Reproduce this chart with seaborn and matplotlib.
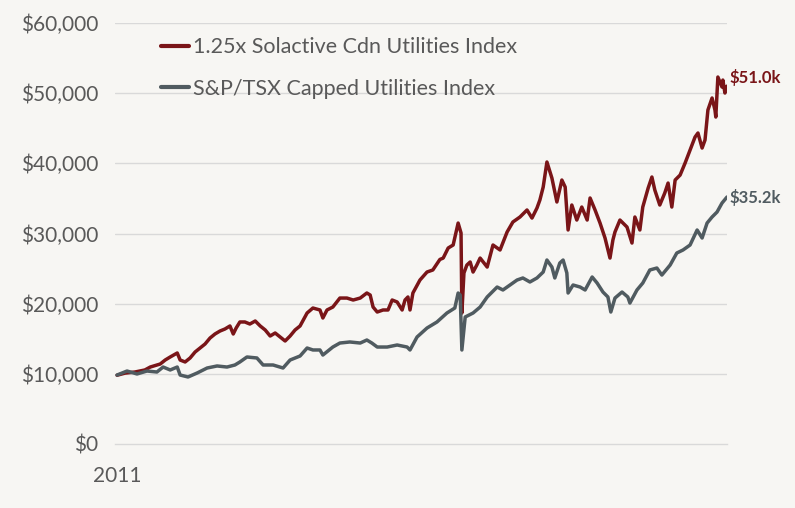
import numpy as np
import pandas as pd
import matplotlib
matplotlib.use("Agg")
import matplotlib.pyplot as plt
import seaborn as sns

# growth of $10,000, x = years since start of 2011
lev_years = [0.00, 0.19, 0.43, 0.67, 0.80, 1.04, 1.16, 1.28, 1.45, 1.52, 1.64, 1.76, 1.88, 2.00,
             2.12, 2.24, 2.36, 2.48, 2.60, 2.72, 2.80, 2.87, 2.96, 3.08, 3.20, 3.33, 3.45, 3.57,
             3.69, 3.81, 3.93, 4.05, 4.17, 4.29, 4.41, 4.58, 4.72, 4.89, 4.96, 5.06, 5.20, 5.37,
             5.54, 5.69, 5.86, 6.02, 6.10, 6.17, 6.27, 6.41, 6.53, 6.63, 6.75, 6.87, 6.94, 7.01,
             7.06, 7.13, 7.30, 7.47, 7.61, 7.78, 7.86, 7.98, 8.10, 8.22, 8.29, 8.31, 8.36, 8.43,
             8.51, 8.58, 8.67, 8.75, 8.92, 9.06, 9.23, 9.40, 9.54, 9.71, 9.88, 10.00, 10.12, 10.19,
             10.27, 10.36, 10.48, 10.60, 10.72, 10.80, 10.87, 10.96, 11.08, 11.20, 11.33, 11.40,
             11.52, 11.64, 11.76, 11.88, 11.95, 12.00, 12.12, 12.29, 12.41, 12.48, 12.60, 12.67,
             12.80, 12.89, 12.96, 13.08, 13.20, 13.28, 13.37, 13.45, 13.57, 13.69, 13.81, 13.93,
             14.00, 14.10, 14.17, 14.24, 14.34, 14.41, 14.43, 14.48, 14.58, 14.60, 14.65, 14.70]
lev_values = [9800, 10100, 10260, 10550, 10970, 11400, 11970, 12400, 12970, 11970, 11690, 12260, 13110, 13680,
              14250, 15100, 15680, 16100, 16390, 16820, 15680, 16530, 17390, 17390, 17100, 17530, 16820, 16250,
              15390, 15820, 15250, 14680, 15390, 16250, 16820, 18670, 19380, 19100, 17960, 19100, 19520, 20800,
              20800, 20520, 20800, 21520, 21230, 19520, 18810, 19100, 19100, 20520, 20240, 19100, 20520, 20950,
              19100, 21520, 23370, 24510, 24800, 26300, 26500, 27930, 28360, 31490, 30070, 18670, 24370, 25500,
              25940, 24510, 25500, 26500, 25220, 28360, 27650, 30210, 31640, 32350, 33350, 32200, 33630, 34770,
              36620, 40190, 37900, 34490, 37620, 36620, 30500, 34060, 31920, 33770, 31920, 35060,
              33350, 31490, 29360, 26500, 29070, 30210, 31920, 30920, 28640, 32350, 30500, 33770,
              36480, 38050, 36200, 34060, 35770, 37190, 33770, 37620, 38330, 40040, 41900, 43750,
              44320, 42180, 43320, 47600, 49310, 47600, 46600, 52300, 50870, 51870, 50020, 51000]

tsx_years = [0.00, 0.24, 0.48, 0.72, 0.96, 1.11, 1.28, 1.45, 1.52, 1.71, 1.93, 2.17, 2.41, 2.65,
             2.84, 2.96, 3.13, 3.37, 3.52, 3.76, 4.00, 4.17, 4.41, 4.58, 4.72, 4.89, 4.96, 5.20,
             5.37, 5.61, 5.86, 6.02, 6.14, 6.27, 6.51, 6.75, 6.99, 7.06, 7.23, 7.47, 7.71, 7.95,
             8.14, 8.22, 8.27, 8.31, 8.39, 8.58, 8.75, 8.92, 9.16, 9.30, 9.47, 9.64, 9.78, 9.95,
             10.12, 10.27, 10.36, 10.48, 10.55, 10.67, 10.75, 10.84, 10.87, 10.99, 11.16, 11.28,
             11.45, 11.57, 11.71, 11.83, 11.90, 12.00, 12.17, 12.31, 12.36, 12.53, 12.67, 12.84,
             13.01, 13.13, 13.33, 13.49, 13.64, 13.81, 13.98, 14.10, 14.22, 14.34, 14.46, 14.58, 14.70]
tsx_values = [9830, 10400, 9980, 10400, 10260, 10970, 10550, 10970, 9830, 9550, 10120, 10830, 11120, 10970,
              11260, 11690, 12400, 12260, 11260, 11260, 10830, 11970, 12540, 13680, 13400, 13400, 12680, 13820,
              14390, 14540, 14390, 14820, 14390, 13820, 13820, 14110, 13820, 13400, 15250, 16530, 17390, 18670,
              19380, 21520, 21230, 13400, 18100, 18670, 19520, 20950, 22370, 21950, 22660, 23370, 23660, 23090,
              23660, 24510, 26220, 25220, 23660, 25790, 26220, 24370, 21520, 22660, 22370, 21950,
              23800, 22940, 21660, 20950, 18810, 20800, 21660, 20950, 20090, 21950, 22940, 24800,
              25080, 24080, 25510, 27220, 27650, 28360, 30500, 29360, 31490, 32350, 33060, 34340, 35200]

series_names = ["1.25x Solactive Cdn Utilities Index", "S&P/TSX Capped Utilities Index"]
end_labels = ["$51.0k", "$35.2k"]
y_ticks = [0, 10000, 20000, 30000, 40000, 50000, 60000]
x_tick_label = "2011"

df = pd.concat([
    pd.DataFrame({"year": lev_years, "value": lev_values, "series": series_names[0]}),
    pd.DataFrame({"year": tsx_years, "value": tsx_values, "series": series_names[1]}),
])

bg = "#f7f6f3"
red = "#7a1518"
gray = "#505b60"
txt = "#595959"
grid = "#d9d9d9"

sns.set_theme(style="white")
plt.rcParams["font.family"] = ["Lato", "DejaVu Sans"]

fig = plt.figure(figsize=(7.95, 5.08), dpi=100, facecolor=bg)
ax = fig.add_axes([115 / 795, 64 / 508, 612 / 795, 421 / 508], facecolor=bg)

sns.lineplot(data=df, x="year", y="value", hue="series", palette=[red, gray],
             linewidth=2.5, ax=ax, legend=True)

ax.set_xlim(-0.05, 14.70)
ax.set_ylim(0, 60000)
ax.set_yticks(y_ticks)
ax.set_yticklabels([f"${v:,.0f}" for v in y_ticks])
ax.set_xticks([0])
ax.set_xticklabels([x_tick_label])
ax.set_xlabel("")
ax.set_ylabel("")

for v in y_ticks[1:]:
    ax.axhline(v, color=grid, lw=1.0, zorder=0)
for s in ["top", "right", "left"]:
    ax.spines[s].set_visible(False)
ax.spines["bottom"].set_color(grid)
ax.spines["bottom"].set_linewidth(1.0)

ax.tick_params(axis="y", length=0, pad=12, labelsize=15, labelcolor=txt)
ax.tick_params(axis="x", length=6, width=1.0, color=grid, pad=10, labelsize=15, labelcolor=txt)

# end-of-line value labels
ax.annotate(end_labels[0], xy=(lev_years[-1], lev_values[-1]), xytext=(2, 6),
            textcoords="offset points", color=red, fontsize=12, fontweight="bold",
            va="center", ha="left", annotation_clip=False)
ax.annotate(end_labels[1], xy=(tsx_years[-1], tsx_values[-1]), xytext=(2, 0),
            textcoords="offset points", color=gray, fontsize=12, fontweight="bold",
            va="center", ha="left", annotation_clip=False)

leg = ax.legend(loc="upper left", bbox_to_anchor=(142 / 795, 490 / 508),
                bbox_transform=fig.transFigure, frameon=False, fontsize=15.5,
                handlelength=1.3, handletextpad=0.15, labelspacing=1.0)
for line in leg.get_lines():
    line.set_linewidth(3.0)
for t in leg.get_texts():
    t.set_color(txt)

fig.savefig("out.png", dpi=100, facecolor=bg)
